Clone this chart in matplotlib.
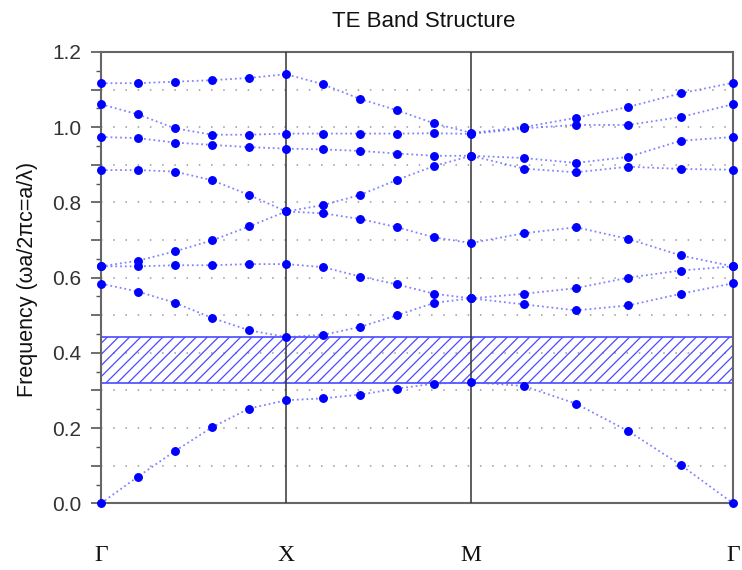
import numpy as np
import matplotlib
matplotlib.use("Agg")
import matplotlib.pyplot as plt
from matplotlib.ticker import MultipleLocator, FuncFormatter

# symmetry points and number of k-steps on each segment
sym_labels = ["\u0393", "X", "M", "\u0393"]
seg_lengths = [1.0, 1.0, np.sqrt(2)]
steps_per_seg = 5

# TE bands (16 k-points: G..X..M..G)
band1 = [0.000, 0.071, 0.139, 0.202, 0.252, 0.274, 0.279, 0.289, 0.305, 0.318, 0.322, 0.312, 0.265, 0.192, 0.102, 0.000]
band2 = [0.584, 0.563, 0.533, 0.493, 0.460, 0.442, 0.448, 0.469, 0.500, 0.533, 0.545, 0.529, 0.513, 0.526, 0.557, 0.585]
band3 = [0.630, 0.630, 0.633, 0.633, 0.636, 0.636, 0.628, 0.603, 0.582, 0.557, 0.545, 0.557, 0.572, 0.600, 0.619, 0.630]
band4 = [0.630, 0.645, 0.670, 0.699, 0.736, 0.776, 0.771, 0.756, 0.734, 0.707, 0.692, 0.718, 0.734, 0.703, 0.659, 0.630]
band5 = [0.886, 0.886, 0.882, 0.859, 0.820, 0.776, 0.793, 0.820, 0.860, 0.897, 0.924, 0.890, 0.880, 0.895, 0.889, 0.887]
band6 = [0.974, 0.971, 0.959, 0.953, 0.947, 0.943, 0.941, 0.937, 0.930, 0.924, 0.924, 0.918, 0.905, 0.921, 0.964, 0.974]
band7 = [1.061, 1.034, 0.997, 0.980, 0.980, 0.983, 0.983, 0.983, 0.983, 0.984, 0.982, 0.997, 1.006, 1.006, 1.027, 1.061]
band8 = [1.117, 1.117, 1.121, 1.125, 1.131, 1.141, 1.114, 1.075, 1.045, 1.010, 0.985, 1.000, 1.025, 1.054, 1.090, 1.118]
bands = [band1, band2, band3, band4, band5, band6, band7, band8]

gap_low = 0.320
gap_high = 0.442


def k_path():
    sym_pos = np.concatenate([[0], np.cumsum(seg_lengths)])
    k = [0.0]
    for i in range(len(seg_lengths)):
        k.extend(np.linspace(sym_pos[i], sym_pos[i + 1], steps_per_seg + 1)[1:])
    return np.array(k), sym_pos


def plot_bands():
    k, sym_pos = k_path()
    plt.rcParams['hatch.linewidth'] = 0.9

    fig = plt.figure(figsize=(7.42, 5.70), dpi=100)
    ax = fig.add_axes([0.1361, 0.117, 0.8518, 0.7918])

    for y in np.arange(0.1, 1.15, 0.1):
        ax.axhline(y, color="#999999", lw=1.1, ls=(0, (1, 7)), zorder=1)

    ax.fill_between([sym_pos[0], sym_pos[-1]], gap_low, gap_high, facecolor="none",
                    edgecolor="#4a4aff", hatch="///", lw=1.2, zorder=2)

    for x in sym_pos[1:-1]:
        ax.axvline(x, color="#333333", lw=1.1, zorder=3)

    for b in bands:
        ax.plot(k, b, ls=":", color="#5a5aff", lw=1.3, alpha=0.75, zorder=4)
        ax.plot(k, b, ls="none", marker="o", ms=5.4, color="#0000ff", zorder=5,
                clip_on=False)

    ax.set_xlim(sym_pos[0], sym_pos[-1])
    ax.set_ylim(0, 1.2)
    ax.set_xticks(sym_pos)
    ax.set_xticklabels(sym_labels, family="Liberation Serif", fontsize=17, color="#111111")
    ax.tick_params(axis="x", length=0, pad=30)

    ax.yaxis.set_major_locator(MultipleLocator(0.1))
    ax.yaxis.set_minor_locator(MultipleLocator(0.05))
    ax.yaxis.set_major_formatter(FuncFormatter(
        lambda v, p: "%.1f" % v if round(v * 10) % 2 == 0 else ""))
    ax.tick_params(axis="y", which="major", direction="out", length=7, width=1.2,
                   color="#555555", labelsize=15, labelcolor="#333333", pad=7)
    ax.tick_params(axis="y", which="minor", direction="out", length=3.6, width=1.0,
                   color="#555555")
    for lab in ax.get_yticklabels():
        lab.set_family("Liberation Sans")

    for s in ax.spines.values():
        s.set_color("#666666")
        s.set_linewidth(1.5)

    ax.set_ylabel("Frequency (\u03c9a/2\u03c0c=a/\u03bb)", family="Liberation Sans",
                  fontsize=15.5, color="#111111")
    ax.yaxis.set_label_coords(-0.099, 0.497)
    ax.set_title("TE Band Structure", family="Liberation Sans", fontsize=16,
                 color="#111111", x=0.51, pad=18)

    fig.savefig("out.png", dpi=100)


if __name__ == '__main__':
    plot_bands()
